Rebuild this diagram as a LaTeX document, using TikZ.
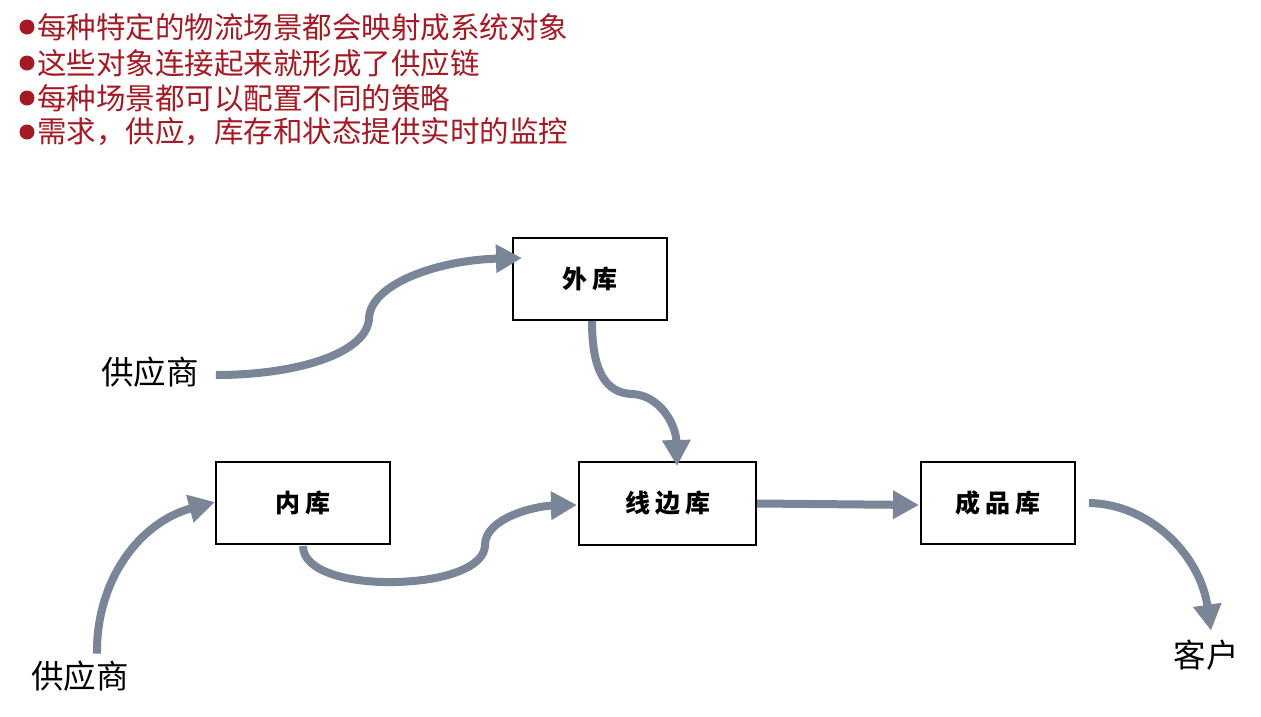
\documentclass[tikz,border=0pt]{standalone}
\usepackage{fontspec}
\setmainfont{Noto Sans CJK SC}
\newfontfamily\boxfont[LetterSpace=20]{Noto Sans CJK SC}
\usetikzlibrary{arrows.meta,calc}
\definecolor{titlered}{RGB}{163,26,36}
\definecolor{flowgray}{RGB}{122,133,152}
\begin{document}
\begin{tikzpicture}[x=1pt,y=-1pt,
  bullet/.style={circle,fill=titlered,minimum size=15pt,inner sep=0},
  title/.style={anchor=west,inner sep=0,text=titlered,font=\fontsize{29.5}{29.5}\selectfont},
  store/.style={draw,line width=2pt,minimum height=82pt,inner sep=0,font=\boxfont\bfseries\fontsize{25}{25}\selectfont},
  party/.style={inner sep=0,font=\fontsize{32.5}{32.5}\selectfont},
  flow/.style={draw=flowgray,line width=8pt,-{Triangle[width=27pt,length=26pt]}}]
\fill[white] (0,0) rectangle (1261,716);
\useasboundingbox (0,0) rectangle (1261,716);

% title bullets
\node[bullet] (b1) at (27,27) {};
\node[bullet] (b2) at (27,63) {};
\node[bullet] (b3) at (27,98) {};
\node[bullet] (b4) at (27,132) {};
\node[title] (t1) at (37,27) {每种特定的物流场景都会映射成系统对象};
\node[title] (t2) at (37,63) {这些对象连接起来就形成了供应链};
\node[title] (t3) at (37,98) {每种场景都可以配置不同的策略};
\node[title] (t4) at (37,132) {需求，供应，库存和状态提供实时的监控};

% stores
\node[store,minimum width=154pt] (wk) at (590,279) {外库};
\node[store,minimum width=174pt] (nk) at (303,503) {内库};
\node[store,minimum width=177pt,minimum height=83pt] (xb) at (667.5,503.5) {线边库};
\node[store,minimum width=154pt] (cp) at (998,503) {成品库};

% parties
\node[party] (s1) at (150,372) {供应商};
\node[party] (s2) at (80,676) {供应商};
\node[party] (kh) at (1206,655) {客户};

% flows
\draw[flow] ($(s1.east)+(17,3)$) .. controls (300,375) and (368,352) .. (369,318)
  .. controls (371,283) and (440,260) .. ($(wk.west)+(10,-21)$);
\draw[flow] ($(wk.south)+(2,0)$) .. controls (592,372) and (606,393) .. (632,394)
  .. controls (660,395) and (676,425) .. ($(xb.north)+(9.5,5)$);
\draw[flow] ($(s2.north)+(17,-7)$) .. controls (96,580) and (140,522) .. ($(nk.west)+(0,-1)$);
\draw[flow] ($(nk.south)+(0,1)$) .. controls (303,572) and (350,583) .. (395,582)
  .. controls (445,581) and (485,567) .. (485,545)
  .. controls (485,518) and (535,506) .. ($(xb.west)+(-1,1.5)$);
\draw[flow] (xb.east) -- ($(cp.west)+(-1,2)$);
\draw[flow] ($(cp.east)+(13,0)$) .. controls (1150,504) and (1200,555) .. ($(kh.north)+(5,-9)$);
\end{tikzpicture}
\end{document}
